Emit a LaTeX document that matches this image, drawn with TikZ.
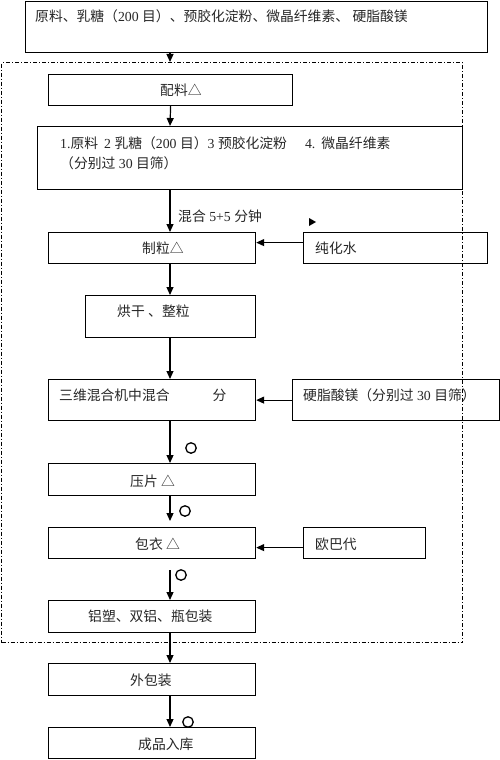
\documentclass[tikz,border=0pt]{standalone}
\usepackage{fontspec}
\setmainfont{Liberation Serif}
\newfontfamily\cjk{Noto Sans CJK SC}
\usetikzlibrary{arrows.meta}
\newcommand\C[1]{{\cjk #1}}
\tikzset{
  box/.style={draw, line width=1.2pt, inner sep=0pt, anchor=north west},
  grpbox/.style={draw, line width=1.1pt, inner sep=0pt, anchor=north west,
    dash pattern=on 4pt off 2pt on 1pt off 2pt},
  txt/.style={anchor=west, inner sep=0pt, text=black!85,
    font=\fontsize{13.8}{20}\selectfont},
  arr/.style={line width=1.2pt, -{Triangle[length=8pt,width=7pt]}},
  circ/.style={circle, draw, line width=1.3pt, minimum size=10.5pt, inner sep=0pt}
}
\begin{document}
\begin{tikzpicture}[x=1pt,y=-1pt]
\useasboundingbox (0,0) rectangle (500,760);
\coordinate (col) at (170,0);
% boxes
\node[box, minimum width=462pt, minimum height=51.5pt] (top) at (25,0.6) {};
\node[grpbox, minimum width=461pt, minimum height=580pt] (grp) at (1,62) {};
\node[box, minimum width=244pt, minimum height=31pt] (peiliao) at (48,74) {};
\node[box, minimum width=425pt, minimum height=63pt] (mix) at (37,126) {};
\node[box, minimum width=207pt, minimum height=31pt] (zhili) at (48,232) {};
\node[box, minimum width=184pt, minimum height=31pt] (water) at (303,232) {};
\node[box, minimum width=170pt, minimum height=42pt] (dry) at (85,295) {};
\node[box, minimum width=207pt, minimum height=41pt] (sanwei) at (48,379) {};
\node[box, minimum width=207pt, minimum height=41pt] (mg) at (292,379) {};
\node[box, minimum width=207pt, minimum height=32pt] (yapian) at (48,463) {};
\node[box, minimum width=207pt, minimum height=31pt] (baoyi) at (48,527) {};
\node[box, minimum width=122pt, minimum height=31pt] (opadry) at (303,527) {};
\node[box, minimum width=207pt, minimum height=32pt] (pack) at (48,600) {};
\node[box, minimum width=207pt, minimum height=32pt] (outer) at (48,663) {};
\node[box, minimum width=207pt, minimum height=31pt] (store) at (48,727) {};
% texts
\node[txt] (t-top) at (35,16) {\C{原料、乳糖（}200 \C{目）、预胶化淀粉、微晶纤维素、}\ \C{硬脂酸镁}};
\node[txt] (t-peiliao) at (160,90) {\C{配料△}};
\node[txt, align=left] (t-mix) at (60,153) {1.\C{原料}\hspace{6pt}2 \C{乳糖（}200 \C{目）}3 \C{预胶化淀粉}\hspace{18pt}4.\hspace{6pt}\C{微晶纤维素}\\\C{（分别过} 30 \C{目筛）}};
\node[txt] (t-hh) at (178,216) {\C{混合} 5+5 \C{分钟}};
\node[txt] (t-zhili) at (142,248) {\C{制粒△}};
\node[txt] (t-water) at (315,248) {\C{纯化水}};
\node[txt] (t-dry) at (117,311) {\C{烘干}\ \C{、整粒}};
\node[txt] (t-sanwei) at (59,395) {\C{三维混合机中混合}\hspace{43pt}\C{分}};
\node[txt] (t-mg) at (303,395) {\C{硬脂酸镁（分别过} 30 \C{目筛）}};
\node[txt] (t-yapian) at (130,481) {\C{压片}\ \C{△}};
\node[txt] (t-baoyi) at (135,544) {\C{包衣}\ \C{△}};
\node[txt] (t-opadry) at (315,544) {\C{欧巴代}};
\node[txt] (t-pack) at (88,616) {\C{铝塑、双铝、瓶包装}};
\node[txt] (t-outer) at (130,680) {\C{外包装}};
\node[txt] (t-store) at (138,744) {\C{成品入库}};
% circles
\node[circ] (c1) at (191,448) {};
\node[circ] (c2) at (185,511) {};
\node[circ] (c3) at (181,575) {};
\node[circ] (c4) at (188,722) {};
% stray arrowhead
\fill (309,218) -- (316,222) -- (309,226) -- cycle;
% connectors
\draw[arr] (top.south -| col) -- (grp.north -| col);
\draw[arr] (peiliao.south) -- (mix.north -| col);
\draw[arr] (mix.south -| col) -- (zhili.north -| col);
\draw[arr] (zhili.south -| col) -- (dry.north -| col);
\draw[arr] (dry.south -| col) -- (sanwei.north -| col);
\draw[arr] (sanwei.south -| col) -- (yapian.north -| col);
\draw[arr, shorten >=6pt] (yapian.south -| col) -- (baoyi.north -| col);
\draw[arr, shorten <=11pt] (baoyi.south -| col) -- (pack.north -| col);
\draw[arr] (pack.south -| col) -- (outer.north -| col);
\draw[arr] (outer.south -| col) -- (store.north -| col);
\draw[arr] ([yshift=5.5pt]water.west) -- ([yshift=5.5pt]zhili.east);
\draw[arr] (mg.west) -- (sanwei.east);
\draw[arr] ([yshift=-4.5pt]opadry.west) -- ([yshift=-4.5pt]baoyi.east);
\end{tikzpicture}
\end{document}
